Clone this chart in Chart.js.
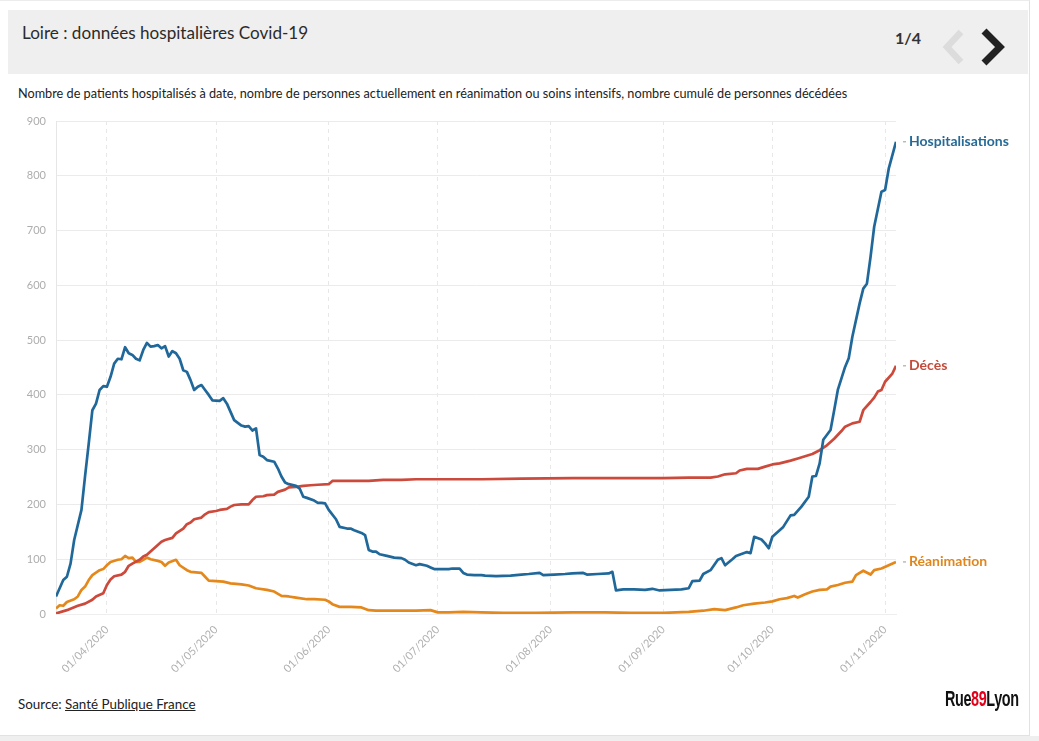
<!DOCTYPE html>
<html lang="fr">
<head>
<meta charset="utf-8">
<title>Loire : données hospitalières Covid-19</title>
<script src="https://cdn.jsdelivr.net/npm/chart.js@4/dist/chart.umd.min.js"></script>
<style>
  html, body { margin: 0; padding: 0; background: #fff; }
  body { width: 1039px; height: 741px; position: relative; overflow: hidden; font-family: Lato, "Noto Sans", sans-serif; color: #222; }
  .card { position: absolute; left: 0; top: 0; width: 1029px; height: 734px; border-right: 1px solid #e2e2e2; border-bottom: 1px solid #e2e2e2; border-top: 1px solid #ececec; }
  .bottom-strip { position: absolute; left: 0; top: 736px; width: 1039px; height: 5px; background: #efefef; }
  .header { position: absolute; left: 8px; top: 10px; width: 1020px; height: 64px; background: #efefef; }
  .title { position: absolute; left: 14px; top: 12px; font-size: 17.1px; color: #2b2b2b; }
  .pager { position: absolute; left: 887px; top: 18px; font-size: 16px; font-weight: bold; color: #333; }
  .arrows { position: absolute; left: 924px; top: 8px; }
  .subtitle { position: absolute; left: 18px; top: 85px; font-size: 12.7px; color: #222; }
  .source { position: absolute; left: 18px; top: 696px; font-size: 13.4px; color: #222; }
  .source span { text-decoration: underline; }
  .logo { position: absolute; left: 945px; top: 686px; font-family: "Liberation Sans", "DejaVu Sans", sans-serif; font-weight: bold; font-size: 22px; letter-spacing: -0.6px; color: #111; transform: scaleX(0.655); transform-origin: left top; }
  .logo b { color: #e2001a; }
  #wrap { position: absolute; left: 0; top: 100px; width: 1039px; height: 590px; }
</style>
</head>
<body>
<div class="card"></div>
<div class="bottom-strip"></div>
<div class="header">
  <div class="title">Loire : données hospitalières Covid-19</div>
  <div class="pager">1/4</div>
  <svg class="arrows" width="90" height="54" viewBox="0 0 90 54">
    <polyline points="29,14 15,29 29,44" fill="none" stroke="#dcdcdc" stroke-width="6.5"/>
    <polyline points="52,13 68,29 52,45" fill="none" stroke="#222" stroke-width="7"/>
  </svg>
</div>
<div class="subtitle">Nombre de patients hospitalisés à date, nombre de personnes actuellement en réanimation ou soins intensifs, nombre cumulé de personnes décédées</div>
<div id="wrap"><canvas id="myChart" width="1039" height="590"></canvas></div>
<div class="source">Source: <span>Santé Publique France</span></div>
<div class="logo">Rue<b>89</b>Lyon</div>

<script>
// jours comptés depuis le 18/03/2020
var monthTicks = [14, 44, 75, 105, 136, 167, 197, 228];
var monthLabels = ["01/04/2020", "01/05/2020", "01/06/2020", "01/07/2020", "01/08/2020", "01/09/2020", "01/10/2020", "01/11/2020"];
var yTicks = [0, 100, 200, 300, 400, 500, 600, 700, 800, 900];

var hospDays = [0, 2, 3, 4, 5, 7, 8, 9, 10, 11, 12, 13, 14, 15, 16, 17, 18, 19, 20, 21, 22, 23, 24, 25, 26, 27, 28, 29, 30, 31, 32, 33, 34, 35, 36, 37, 38, 39, 40, 41, 42, 43, 45, 46, 47, 48, 49, 51, 52, 53, 54, 55, 56, 57, 58, 60, 61, 62, 63, 64, 66, 67, 68, 69, 71, 72, 73, 74, 75, 77, 78, 80, 81, 82, 84, 85, 86, 87, 88, 89, 91, 93, 95, 96, 97, 99, 100, 102, 103, 104, 106, 108, 109, 111, 112, 113, 115, 117, 118, 121, 125, 128, 130, 133, 134, 137, 140, 142, 145, 146, 149, 152, 153, 154, 156, 159, 162, 164, 166, 169, 172, 174, 175, 177, 178, 180, 182, 183, 184, 186, 187, 190, 191, 192, 194, 195, 196, 197, 200, 202, 203, 205, 207, 208, 209, 210, 211, 213, 214, 215, 217, 218, 219, 221, 222, 223, 224, 225, 227, 228, 229, 231];
var hospValues = [32, 62, 68, 92, 135, 190, 252, 311, 372, 384, 409, 416, 415, 433, 457, 466, 465, 487, 476, 473, 466, 463, 482, 495, 488, 489, 491, 485, 489, 470, 480, 476, 466, 445, 442, 427, 409, 415, 418, 409, 400, 390, 389, 394, 384, 369, 354, 344, 342, 343, 335, 339, 290, 287, 281, 278, 266, 251, 240, 237, 234, 229, 214, 212, 207, 203, 203, 202, 190, 173, 159, 156, 156, 153, 148, 144, 117, 114, 114, 109, 106, 103, 102, 99, 94, 89, 91, 88, 85, 82, 82, 82, 83, 83, 75, 72, 71, 71, 70, 69, 70, 72, 73, 75, 71, 72, 73, 74, 75, 72, 73, 74, 77, 43, 45, 45, 44, 46, 43, 44, 45, 47, 60, 61, 73, 80, 99, 102, 89, 100, 106, 113, 111, 141, 136, 129, 120, 141, 159, 180, 181, 196, 214, 251, 252, 275, 318, 336, 372, 409, 451, 467, 506, 567, 594, 603, 652, 707, 771, 774, 813, 862];

var decesDays = [0, 3, 6, 8, 10, 11, 13, 14, 15, 16, 18, 19, 20, 21, 23, 24, 25, 26, 28, 29, 30, 32, 33, 35, 36, 37, 38, 40, 41, 42, 44, 45, 47, 48, 49, 51, 52, 53, 54, 55, 57, 58, 60, 61, 63, 64, 66, 68, 70, 72, 75, 76, 79, 83, 86, 90, 95, 99, 104, 108, 117, 128, 142, 155, 167, 174, 180, 182, 184, 187, 188, 190, 193, 195, 197, 199, 202, 204, 206, 208, 210, 212, 213, 214, 216, 217, 219, 221, 222, 224, 225, 226, 227, 228, 230, 231];
var decesValues = [1, 7, 15, 19, 26, 32, 38, 53, 63, 69, 72, 77, 88, 92, 99, 105, 108, 114, 126, 132, 135, 139, 147, 156, 164, 167, 173, 176, 182, 186, 188, 190, 192, 196, 199, 200, 200, 200, 208, 214, 215, 217, 218, 223, 227, 231, 232, 234, 235, 236, 237, 243, 243, 243, 243, 245, 245, 246, 246, 246, 246, 247, 248, 248, 248, 249, 249, 251, 255, 257, 262, 265, 265, 269, 273, 275, 280, 284, 288, 292, 299, 308, 314, 320, 334, 342, 348, 351, 372, 387, 395, 406, 409, 424, 439, 453];

var reaDays = [0, 1, 2, 3, 5, 6, 7, 8, 9, 10, 12, 13, 14, 15, 17, 18, 19, 20, 21, 22, 23, 24, 25, 26, 28, 29, 30, 31, 33, 34, 36, 37, 40, 41, 42, 44, 46, 48, 51, 53, 55, 58, 60, 62, 64, 66, 69, 71, 74, 75, 76, 78, 81, 84, 86, 88, 92, 96, 99, 103, 105, 108, 112, 117, 123, 132, 142, 151, 158, 167, 174, 178, 181, 184, 187, 189, 192, 195, 197, 199, 201, 203, 204, 206, 208, 210, 212, 213, 215, 217, 219, 220, 222, 224, 225, 227, 229, 231];
var reaValues = [10, 16, 15, 22, 27, 32, 44, 50, 62, 71, 80, 82, 89, 95, 99, 100, 106, 102, 103, 95, 95, 99, 103, 100, 97, 95, 88, 94, 99, 89, 80, 77, 75, 68, 61, 60, 59, 56, 54, 52, 47, 44, 41, 33, 32, 30, 27, 27, 26, 23, 18, 13, 13, 12, 7, 6, 6, 6, 6, 7, 3, 3, 4, 3, 2, 2, 3, 3, 2, 2, 4, 6, 9, 7, 12, 16, 19, 21, 23, 27, 29, 33, 30, 36, 41, 44, 45, 50, 53, 57, 59, 71, 79, 72, 80, 83, 89, 95];

function toPoints(days, values) {
  return days.map(function (d, i) { return { x: d, y: values[i] }; });
}

// étiquettes à droite du dernier point
var endLabels = {
  id: 'endLabels',
  afterDatasetsDraw: function (chart) {
    var ctx = chart.ctx;
    chart.data.datasets.forEach(function (ds, i) {
      var meta = chart.getDatasetMeta(i);
      var last = meta.data[meta.data.length - 1];
      ctx.save();
      ctx.strokeStyle = '#999';
      ctx.lineWidth = 1;
      ctx.beginPath();
      ctx.moveTo(last.x + 7, last.y);
      ctx.lineTo(last.x + 10, last.y);
      ctx.stroke();
      ctx.fillStyle = ds.labelColor;
      ctx.font = 'bold 14px Lato, "Noto Sans", sans-serif';
      ctx.textBaseline = 'middle';
      ctx.fillText(ds.label, last.x + 13, last.y);
      ctx.restore();
    });
  }
};

new Chart("myChart", {
  type: "line",
  data: {
    datasets: [{
      label: "Hospitalisations",
      data: toPoints(hospDays, hospValues),
      borderColor: "#21689a",
      labelColor: "#266a96",
      borderWidth: 2.7
    }, {
      label: "Décès",
      data: toPoints(decesDays, decesValues),
      borderColor: "#cc4a3b",
      labelColor: "#c44b3b",
      borderWidth: 2.7
    }, {
      label: "Réanimation",
      data: toPoints(reaDays, reaValues),
      borderColor: "#e5881b",
      labelColor: "#e0861c",
      borderWidth: 2.7
    }]
  },
  options: {
    responsive: false,
    animation: false,
    devicePixelRatio: 1,
    elements: { point: { radius: 0 }, line: { tension: 0, borderJoinStyle: 'round' } },
    layout: { padding: { left: 0, right: 143, top: 21, bottom: 0 } },
    plugins: { legend: { display: false }, tooltip: { enabled: false } },
    scales: {
      x: {
        type: 'linear',
        min: 0,
        max: 231,
        afterFit: function (scale) { scale.height = 76; },
        afterBuildTicks: function (scale) {
          scale.ticks = monthTicks.map(function (v) { return { value: v }; });
        },
        grid: { color: '#e8e8e8', lineWidth: 1, drawTicks: false },
        border: { display: true, color: '#eeeeee', dash: [4, 4] },
        ticks: {
          autoSkip: false,
          minRotation: 45,
          maxRotation: 45,
          padding: 9,
          color: '#b0b0b0',
          font: { family: 'Lato, "Noto Sans", sans-serif', size: 11 },
          callback: function (value) {
            var k = monthTicks.indexOf(value);
            return k >= 0 ? monthLabels[k] : '';
          }
        }
      },
      y: {
        min: 0,
        max: 900,
        afterFit: function (scale) { scale.width = 56; },
        afterBuildTicks: function (scale) {
          scale.ticks = yTicks.map(function (v) { return { value: v }; });
        },
        grid: { color: '#ebebeb', lineWidth: 1, drawTicks: false },
        border: { display: true, color: '#e6e6e6' },
        ticks: {
          padding: 10,
          color: '#adadad',
          font: { family: 'Lato, "Noto Sans", sans-serif', size: 11 }
        }
      }
    }
  },
  plugins: [endLabels]
});
</script>
</body>
</html>
